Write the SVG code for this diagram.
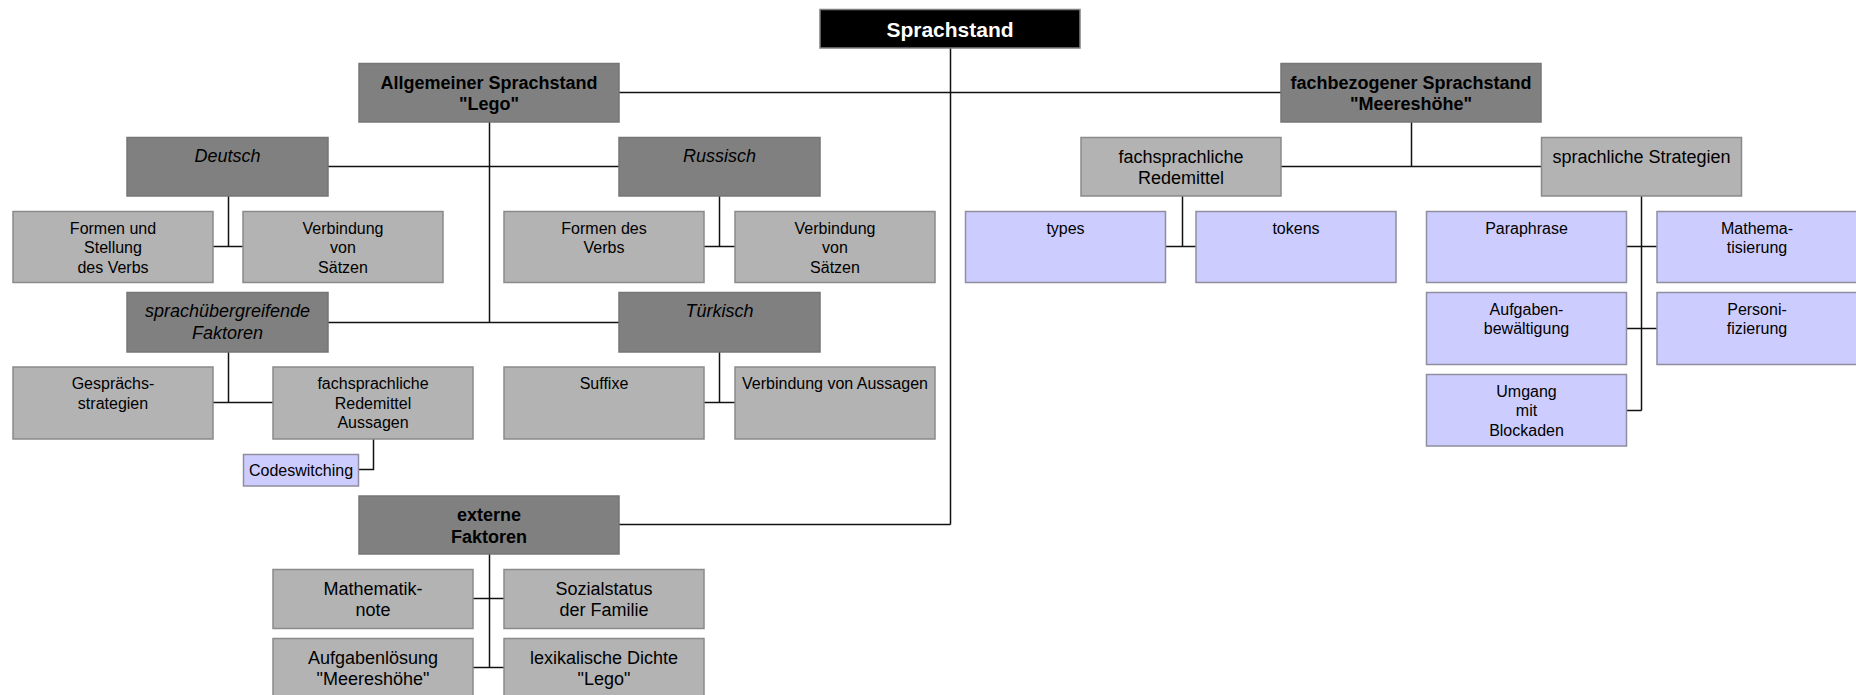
<svg xmlns="http://www.w3.org/2000/svg" width="1856" height="695" viewBox="0 0 1856 695">
<style>
rect{stroke-width:1.5}
.root{fill:#000;stroke:#808080}
.dk{fill:#808080;stroke:#767676}
.lt{fill:#b3b3b3;stroke:#8a8a8a}
.lv{fill:#ccccff;stroke:#8e8e9e}
text{font-family:"Liberation Sans",Arial,sans-serif;text-anchor:middle;fill:#000}
.t21{font-size:21px;font-weight:bold;fill:#fff}
.b18{font-size:18px;font-weight:bold}
.i18{font-size:18px;font-style:italic}
.r18{font-size:18px}
.r16{font-size:16px}
.c line,.c polyline{stroke:#111;stroke-width:1.5;fill:none}
</style>
<rect width="1856" height="695" fill="#fff"/>
<g class="c" id="connectors">
<line x1="950.5" y1="48" x2="950.5" y2="524.5"/>
<line x1="619" y1="92.5" x2="1281" y2="92.5"/>
<line x1="619" y1="524.5" x2="950.5" y2="524.5"/>
<line x1="489.5" y1="122" x2="489.5" y2="322.5"/>
<line x1="328" y1="166.5" x2="619" y2="166.5"/>
<line x1="328" y1="322.5" x2="619" y2="322.5"/>
<line x1="228.5" y1="196" x2="228.5" y2="246.5"/>
<line x1="213" y1="246.5" x2="243" y2="246.5"/>
<line x1="719.5" y1="196" x2="719.5" y2="246.5"/>
<line x1="704" y1="246.5" x2="735" y2="246.5"/>
<line x1="228.5" y1="352" x2="228.5" y2="402.5"/>
<line x1="213" y1="402.5" x2="273" y2="402.5"/>
<line x1="719.5" y1="352" x2="719.5" y2="402.5"/>
<line x1="704" y1="402.5" x2="735" y2="402.5"/>
<polyline points="373.5,439 373.5,469.5 358,469.5"/>
<line x1="489.5" y1="554" x2="489.5" y2="667.5"/>
<line x1="473" y1="598.5" x2="504" y2="598.5"/>
<line x1="473" y1="667.5" x2="504" y2="667.5"/>
<line x1="1411.5" y1="122" x2="1411.5" y2="166.5"/>
<line x1="1281" y1="166.5" x2="1541" y2="166.5"/>
<line x1="1182.5" y1="196" x2="1182.5" y2="246.5"/>
<line x1="1166" y1="246.5" x2="1196" y2="246.5"/>
<line x1="1641.5" y1="196" x2="1641.5" y2="410.5"/>
<line x1="1627" y1="246.5" x2="1657" y2="246.5"/>
<line x1="1627" y1="328.5" x2="1657" y2="328.5"/>
<line x1="1627" y1="410.5" x2="1641.5" y2="410.5"/>
</g>
<g id="sprachstand"><rect class="root" x="820" y="9.5" width="260" height="38.5"/><text class="t21" x="950" y="36.5">Sprachstand</text></g>
<g id="allgemein"><rect class="dk" x="359" y="63.5" width="260" height="58.5"/><text class="b18" x="489" y="88.5">Allgemeiner Sprachstand<tspan x="489" dy="21">"Lego"</tspan></text></g>
<g id="fachbezogen"><rect class="dk" x="1281" y="63.5" width="260" height="58.5"/><text class="b18" x="1411" y="88.5">fachbezogener Sprachstand<tspan x="1411" dy="21">"Meereshöhe"</tspan></text></g>
<g id="extern"><rect class="dk" x="359" y="496" width="260" height="58"/><text class="b18" x="489" y="520.5">externe<tspan x="489" dy="22">Faktoren</tspan></text></g>
<g id="deutsch"><rect class="dk" x="127" y="137.5" width="201" height="58.5"/><text class="i18" x="227.5" y="161.5">Deutsch</text></g>
<g id="russisch"><rect class="dk" x="619" y="137.5" width="201" height="58.5"/><text class="i18" x="719.5" y="161.5">Russisch</text></g>
<g id="sprachuebergreifend"><rect class="dk" x="127" y="292.5" width="201" height="59.5"/><text class="i18" x="227.5" y="316.5">sprachübergreifende<tspan x="227.5" dy="22">Faktoren</tspan></text></g>
<g id="tuerkisch"><rect class="dk" x="619" y="292.5" width="201" height="59.5"/><text class="i18" x="719.5" y="316.5">Türkisch</text></g>
<g id="formen-und"><rect class="lt" x="13" y="211.5" width="200" height="71"/><text class="r16" x="113" y="233.5">Formen und<tspan x="113" dy="19.5">Stellung</tspan><tspan x="113" dy="19.5">des Verbs</tspan></text></g>
<g id="verbindung-de"><rect class="lt" x="243" y="211.5" width="200" height="71"/><text class="r16" x="343" y="233.5">Verbindung<tspan x="343" dy="19.5">von</tspan><tspan x="343" dy="19.5">Sätzen</tspan></text></g>
<g id="formen-des"><rect class="lt" x="504" y="211.5" width="200" height="71"/><text class="r16" x="604" y="233.5">Formen des<tspan x="604" dy="19.5">Verbs</tspan></text></g>
<g id="verbindung-ru"><rect class="lt" x="735" y="211.5" width="200" height="71"/><text class="r16" x="835" y="233.5">Verbindung<tspan x="835" dy="19.5">von</tspan><tspan x="835" dy="19.5">Sätzen</tspan></text></g>
<g id="gespraech"><rect class="lt" x="13" y="367" width="200" height="72"/><text class="r16" x="113" y="389">Gesprächs-<tspan x="113" dy="19.5">strategien</tspan></text></g>
<g id="fach-aussagen"><rect class="lt" x="273" y="367" width="200" height="72"/><text class="r16" x="373" y="389">fachsprachliche<tspan x="373" dy="19.5">Redemittel</tspan><tspan x="373" dy="19.5">Aussagen</tspan></text></g>
<g id="suffixe"><rect class="lt" x="504" y="367" width="200" height="72"/><text class="r16" x="604" y="389">Suffixe</text></g>
<g id="verbindung-aussagen"><rect class="lt" x="735" y="367" width="200" height="72"/><text class="r16" x="835" y="389">Verbindung von Aussagen</text></g>
<g id="codeswitching"><rect class="lv" x="243.5" y="454.5" width="115" height="31.5"/><text class="r16" x="301" y="475.5">Codeswitching</text></g>
<g id="mathenote"><rect class="lt" x="273" y="569.5" width="200" height="59"/><text class="r18" x="373" y="594.5">Mathematik-<tspan x="373" dy="21">note</tspan></text></g>
<g id="sozialstatus"><rect class="lt" x="504" y="569.5" width="200" height="59"/><text class="r18" x="604" y="594.5">Sozialstatus<tspan x="604" dy="21">der Familie</tspan></text></g>
<g id="aufgabenloesung"><rect class="lt" x="273" y="638.5" width="200" height="59"/><text class="r18" x="373" y="663.5">Aufgabenlösung<tspan x="373" dy="21">"Meereshöhe"</tspan></text></g>
<g id="lexdichte"><rect class="lt" x="504" y="638.5" width="200" height="59"/><text class="r18" x="604" y="663.5">lexikalische Dichte<tspan x="604" dy="21">"Lego"</tspan></text></g>
<g id="fach-redemittel"><rect class="lt" x="1081" y="137.5" width="200" height="58.5"/><text class="r18" x="1181" y="162.5">fachsprachliche<tspan x="1181" dy="21">Redemittel</tspan></text></g>
<g id="strategien"><rect class="lt" x="1541.5" y="137.5" width="200" height="58.5"/><text class="r18" x="1641.5" y="162.5">sprachliche Strategien</text></g>
<g id="types"><rect class="lv" x="965.5" y="211.5" width="200" height="71"/><text class="r16" x="1065.5" y="233.5">types</text></g>
<g id="tokens"><rect class="lv" x="1196" y="211.5" width="200" height="71"/><text class="r16" x="1296" y="233.5">tokens</text></g>
<g id="paraphrase"><rect class="lv" x="1426.5" y="211.5" width="200" height="71"/><text class="r16" x="1526.5" y="233.5">Paraphrase</text></g>
<g id="mathematisierung"><rect class="lv" x="1657" y="211.5" width="201" height="71"/><text class="r16" x="1757" y="233.5">Mathema-<tspan x="1757" dy="19.5">tisierung</tspan></text></g>
<g id="aufgabenbewaeltigung"><rect class="lv" x="1426.5" y="292.5" width="200" height="72"/><text class="r16" x="1526.5" y="314.5">Aufgaben-<tspan x="1526.5" dy="19.5">bewältigung</tspan></text></g>
<g id="personifizierung"><rect class="lv" x="1657" y="292.5" width="201" height="72"/><text class="r16" x="1757" y="314.5">Personi-<tspan x="1757" dy="19.5">fizierung</tspan></text></g>
<g id="blockaden"><rect class="lv" x="1426.5" y="374.5" width="200" height="71.5"/><text class="r16" x="1526.5" y="396.5">Umgang<tspan x="1526.5" dy="19.5">mit</tspan><tspan x="1526.5" dy="19.5">Blockaden</tspan></text></g>
</svg>
